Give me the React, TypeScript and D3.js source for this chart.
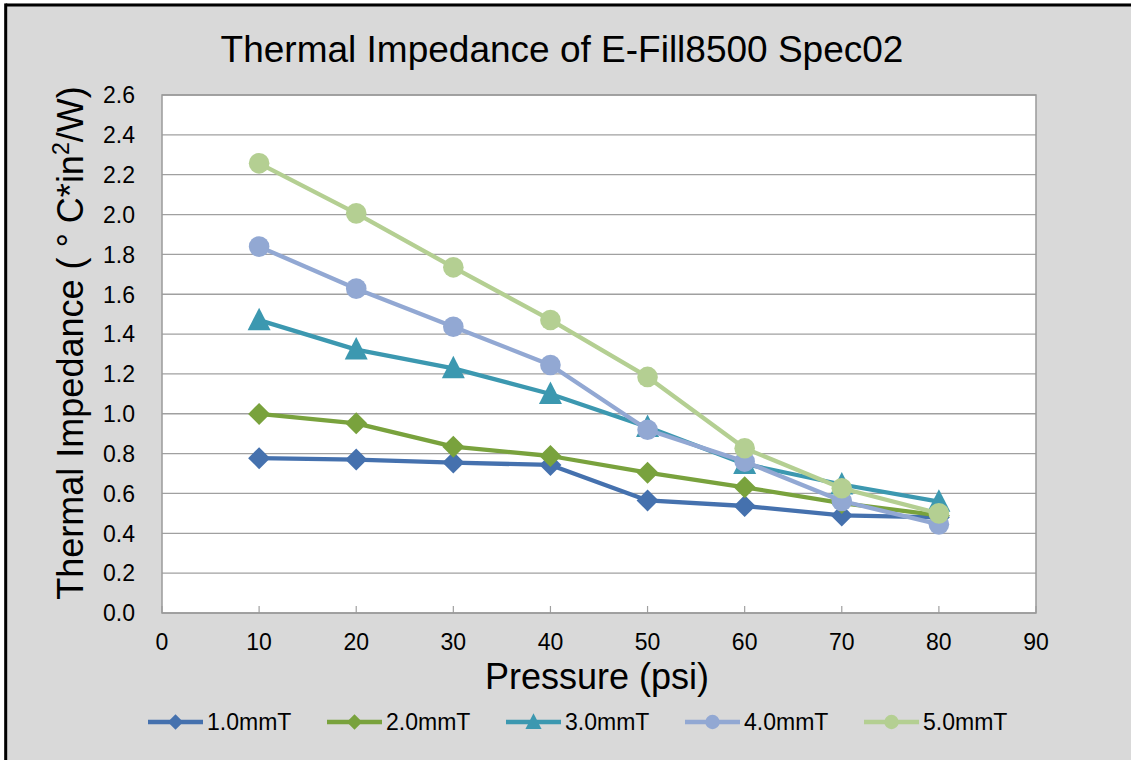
import React from "react";
import * as d3 from "d3";

const pressures = [10, 20, 30, 40, 50, 60, 70, 80];
const seriesNames = ["1.0mmT", "2.0mmT", "3.0mmT", "4.0mmT", "5.0mmT"];
const s1 = [0.777, 0.77, 0.755, 0.743, 0.565, 0.537, 0.49, 0.48];
const s2 = [0.999, 0.952, 0.835, 0.788, 0.704, 0.631, 0.552, 0.49];
const s3 = [1.47, 1.322, 1.228, 1.099, 0.934, 0.748, 0.645, 0.559];
const s4 = [1.839, 1.628, 1.437, 1.245, 0.92, 0.76, 0.562, 0.445];
const s5 = [2.257, 2.006, 1.735, 1.471, 1.185, 0.827, 0.626, 0.5];
const seriesValues = [s1, s2, s3, s4, s5];
const colors = ["#4571ae", "#79a23d", "#3c98b0", "#92a8d3", "#b4cf92"];
const markers = ["diamond", "diamond", "triangle", "circle", "circle"];
const yTicks = [0, 0.2, 0.4, 0.6, 0.8, 1.0, 1.2, 1.4, 1.6, 1.8, 2.0, 2.2, 2.4, 2.6];
const xTicks = [0, 10, 20, 30, 40, 50, 60, 70, 80, 90];

const W = 1131;
const H = 760;
const plot = { left: 162, right: 1036, top: 95, bottom: 613 };
const font = "'Liberation Sans', Arial, sans-serif";

function Marker({ type, x, y, color, scale = 1 }: { type: string; x: number; y: number; color: string; scale?: number }) {
  if (type === "diamond") {
    const s = 11 * scale;
    return <path d={`M${x},${y - s}L${x + s},${y}L${x},${y + s}L${x - s},${y}Z`} fill={color} />;
  }
  if (type === "triangle") {
    const s = scale;
    return (
      <path
        d={`M${x},${y - 12.5 * s}L${x + 11.5 * s},${y + 10 * s}L${x - 11.5 * s},${y + 10 * s}Z`}
        fill={color}
      />
    );
  }
  return <circle cx={x} cy={y} r={10.3 * scale} fill={color} />;
}

export default function App() {
  const x = d3.scaleLinear().domain([0, 90]).range([plot.left, plot.right]);
  const y = d3.scaleLinear().domain([0, 2.6]).range([plot.bottom, plot.top]);
  const line = d3
    .line<number>()
    .x((_, i) => x(pressures[i]))
    .y((d) => y(d));

  const legendX0 = 148;
  const legendStep = 179;
  const legendY = 722;

  return (
    <div style={{ position: "fixed", left: 0, top: 0, width: W, height: H, overflow: "hidden" }}>
      <svg width={W} height={H} style={{ display: "block" }} fontFamily={font}>
        <rect x={0} y={0} width={W} height={H} fill="#d9d9d9" />
        <rect x={0} y={0} width={W} height={3.5} fill="#ffffff" />
        <rect x={0} y={0} width={4.2} height={H} fill="#ffffff" />
        <line x1={5.7} x2={W} y1={5} y2={5} stroke="#000" strokeWidth={3} />
        <line x1={5.7} x2={5.7} y1={3.5} y2={H} stroke="#000" strokeWidth={3} />
        <rect x={plot.left} y={plot.top} width={plot.right - plot.left} height={plot.bottom - plot.top} fill="#fff" />
        {yTicks.map((t) => (
          <line key={"g" + t} x1={plot.left} x2={plot.right} y1={y(t)} y2={y(t)} stroke="#a0a0a0" strokeWidth={1.3} />
        ))}
        {xTicks.map((t) => (
          <line key={"xt" + t} x1={x(t)} x2={x(t)} y1={plot.bottom} y2={plot.bottom - 7} stroke="#a0a0a0" strokeWidth={1.2} />
        ))}
        <rect x={plot.left} y={plot.top} width={plot.right - plot.left} height={plot.bottom - plot.top} fill="none" stroke="#9a9a9a" strokeWidth={1.5} />
        {yTicks.map((t) => (
          <text key={"yl" + t} x={135} y={y(t)} dy="0.36em" textAnchor="end" fontSize={23} fill="#000">
            {t.toFixed(1)}
          </text>
        ))}
        {xTicks.map((t) => (
          <text key={"xl" + t} x={x(t)} y={650} textAnchor="middle" fontSize={23} fill="#000">
            {t}
          </text>
        ))}
        {seriesValues.map((vals, si) => (
          <g key={"s" + si}>
            <path d={line(vals) || ""} fill="none" stroke={colors[si]} strokeWidth={4.3} strokeLinejoin="round" />
            {vals.map((v, i) => (
              <Marker key={i} type={markers[si]} x={x(pressures[i])} y={y(v)} color={colors[si]} />
            ))}
          </g>
        ))}
        <text x={562} y={62} textAnchor="middle" fontSize={37} fill="#000">
          Thermal Impedance of E-Fill8500 Spec02
        </text>
        <text x={597} y={689} textAnchor="middle" fontSize={36} fill="#000">
          Pressure (psi)
        </text>
        <text transform={`translate(83, 343) rotate(-90)`} textAnchor="middle" fontSize={36} fill="#000">
          Thermal Impedance ( ° C*in<tspan dy="-14" fontSize={23}>2</tspan><tspan dy="14">/W)</tspan>
        </text>
        {seriesNames.map((name, i) => {
          const lx = legendX0 + i * legendStep;
          return (
            <g key={"lg" + i}>
              <line x1={lx} x2={lx + 55} y1={legendY} y2={legendY} stroke={colors[i]} strokeWidth={4.3} />
              <Marker type={markers[i]} x={lx + 27.5} y={legendY} color={colors[i]} scale={0.7} />
              <text x={lx + 59} y={legendY} dy="0.36em" fontSize={23} fill="#000">
                {name}
              </text>
            </g>
          );
        })}
      </svg>
    </div>
  );
}
